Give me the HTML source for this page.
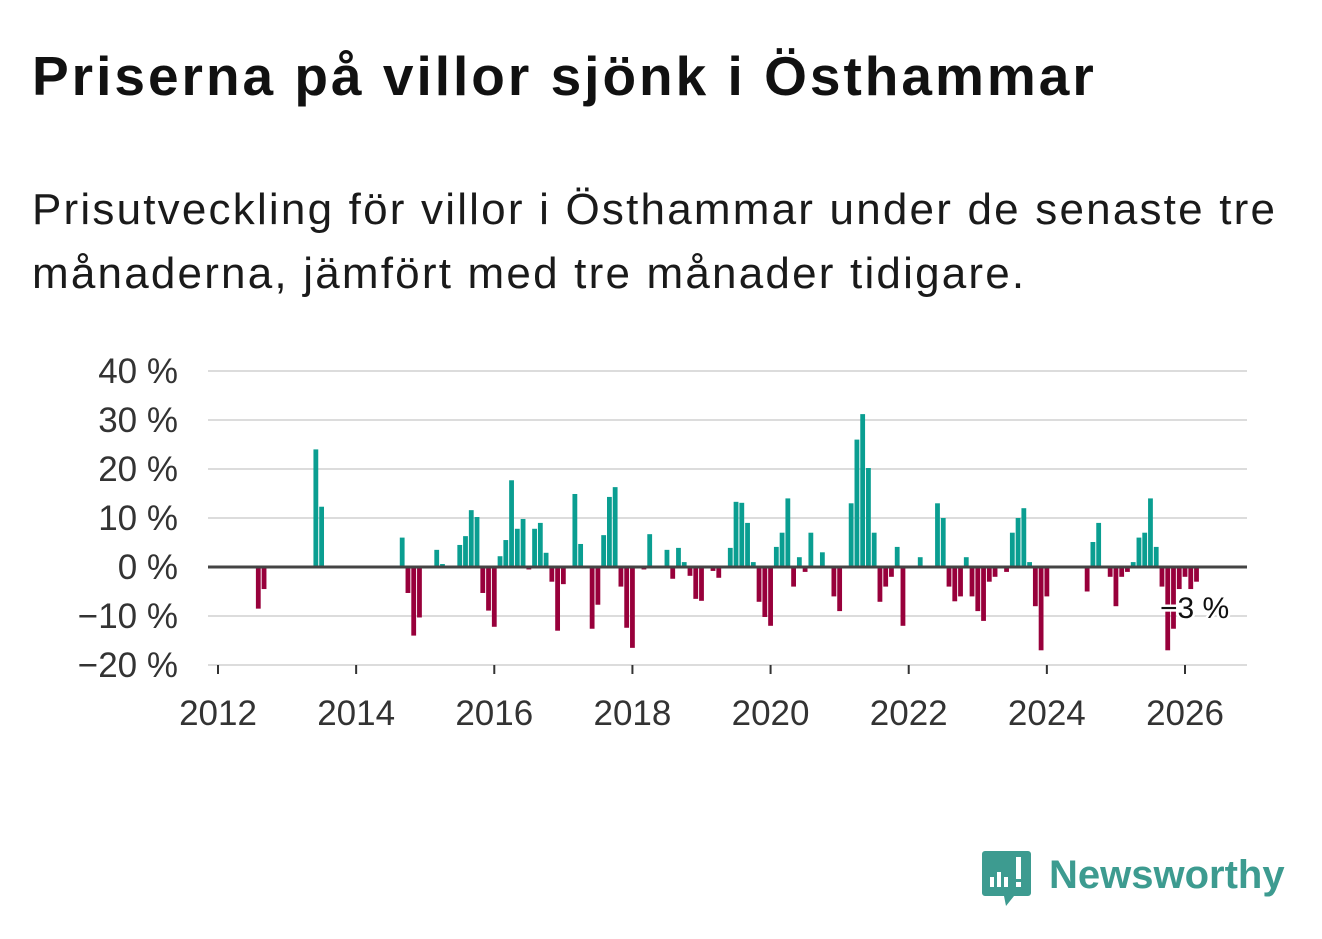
<!DOCTYPE html>
<html><head><meta charset="utf-8">
<style>
html,body{margin:0;padding:0;background:#fff;width:1322px;height:939px;overflow:hidden;font-family:"Liberation Sans","DejaVu Sans",sans-serif;color:#111;}
#title{position:absolute;left:32px;top:44px;font-size:55px;letter-spacing:3px;font-weight:bold;margin:0;white-space:nowrap;}
#subtitle{position:absolute;left:32px;top:178px;font-size:44px;letter-spacing:2.2px;line-height:64px;margin:0;color:#1a1a1a;white-space:nowrap;}
svg{position:absolute;left:0;top:0;}
</style></head>
<body>
<h1 id="title">Priserna på villor sjönk i Östhammar</h1>
<p id="subtitle">Prisutveckling för villor i Östhammar under de senaste tre<br>månaderna, jämfört med tre månader tidigare.</p>
<svg id="chart" width="1322" height="939"></svg>
<script>
// months since Jan 2012 and percent change values
const monthIdx = [7,8,17,18,32,33,34,35,38,39,42,43,44,45,46,47,48,49,50,51,52,53,54,55,56,57,58,59,60,62,63,65,66,67,68,69,70,71,72,74,75,78,79,80,81,82,83,84,86,87,89,90,91,92,93,94,95,96,97,98,99,100,101,102,103,105,107,108,110,111,112,113,114,115,116,117,118,119,122,125,126,127,128,129,130,131,132,133,134,135,137,138,139,140,141,142,143,144,151,152,153,155,156,157,158,159,160,161,162,163,164,165,166,167,168,169,170];
const values = [-8.5,-4.5,24,12.3,6,-5.3,-14,-10.3,3.5,0.6,4.5,6.3,11.6,10.2,-5.3,-8.9,-12.2,2.2,5.5,17.7,7.8,9.8,-0.5,7.8,9,2.9,-3,-13,-3.5,14.9,4.7,-12.6,-7.7,6.5,14.3,16.3,-4,-12.4,-16.5,-0.5,6.7,3.5,-2.4,3.9,1,-1.8,-6.5,-6.9,-0.8,-2.2,3.9,13.3,13.1,9,1,-7.1,-10.2,-12,4.1,7,14,-4,2,-1,7,3,-6,-9,13,26,31.2,20.2,7,-7.1,-4,-2,4.1,-12,2,13,10,-4,-7,-6,2,-6,-9,-11,-3,-2,-1,7,10,12,1,-8,-17,-6,-5,5.1,9,-2,-8,-2,-1,1,6,7,14,4.1,-4,-17,-12.6,-4.5,-2,-4.5,-3];
const yTicks = [40,30,20,10,0,-10,-20];
const yTickLabels = ["40 %","30 %","20 %","10 %","0 %","−10 %","−20 %"];
const xYears = [2012,2014,2016,2018,2020,2022,2024,2026];
const lastLabel = "−3 %";

const NS="http://www.w3.org/2000/svg";
const svg=document.getElementById('chart');
const y0=567, pxPer=4.9, x0=218, pxMonth=(1185-218)/168;
function yS(v){return y0-v*pxPer;}
function xS(m){return x0+m*pxMonth;}
function mk(tag,attrs){const e=document.createElementNS(NS,tag);for(const k in attrs)e.setAttribute(k,attrs[k]);svg.appendChild(e);return e;}

yTicks.forEach((t,i)=>{
  const g=mk('line',{x1:208,x2:1247,y1:yS(t),y2:yS(t),stroke:'#dcdcdc','stroke-width':2});
  
  
  const tx=mk('text',{x:178,y:yS(t)+12,'text-anchor':'end','font-size':35,fill:'#333','font-family':'Liberation Sans, sans-serif'});
  tx.textContent=yTickLabels[i];
  
  
});
xYears.forEach(yr=>{
  const x=xS((yr-2012)*12);
  const t=mk('line',{x1:x,x2:x,y1:665,y2:674,stroke:'#333','stroke-width':2});
  
  
  const tx=mk('text',{x:x,y:725,'text-anchor':'middle','font-size':35,fill:'#333','font-family':'Liberation Sans, sans-serif'});
  tx.textContent=yr;
  
  
});
monthIdx.forEach((m,i)=>{
  const v=values[i];
  const b=mk('rect',{x:xS(m)-2.4,width:4.8,y:v>=0?yS(v):y0,height:Math.max(Math.abs(v)*pxPer,1),fill:v>=0?'#0a9e91':'#98003b'});
  
  
});
const zl=mk('line',{x1:208,x2:1247,y1:y0,y2:y0,stroke:'#444','stroke-width':3});


const lab=mk('text',{x:1160,y:618,'font-size':30,fill:'#111',stroke:'#fff','stroke-width':5,'paint-order':'stroke','font-family':'Liberation Sans, sans-serif'});
lab.textContent=lastLabel;


</script>
<svg width="1322" height="939" style="position:absolute;left:0;top:0">
  <path d="M985 851 h43 a3 3 0 0 1 3 3 v39 a3 3 0 0 1 -3 3 h-14 l-8 10 l-2 -10 h-19 a3 3 0 0 1 -3 -3 v-39 a3 3 0 0 1 3 -3z" fill="#3d9b90"/>
  <rect x="990" y="877" width="4" height="10" fill="#fff"/>
  <rect x="997" y="872" width="4" height="15" fill="#fff"/>
  <rect x="1004" y="877" width="4" height="10" fill="#fff"/>
  <rect x="1016" y="857" width="5" height="22" fill="#fff"/>
  <rect x="1016" y="882" width="5" height="5" fill="#fff"/>
  <text x="1049" y="888" font-size="40" font-weight="bold" fill="#3d9b90" font-family="Liberation Sans, sans-serif">Newsworthy</text>
</svg>
</body></html>
